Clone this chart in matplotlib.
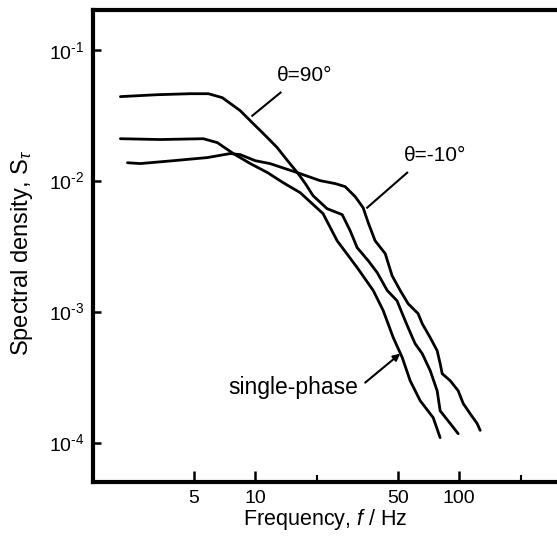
import matplotlib
matplotlib.use("Agg")
import matplotlib.pyplot as plt
from matplotlib.ticker import FixedLocator, NullLocator, NullFormatter, FuncFormatter
import numpy as np

plt.rcParams['font.family'] = ['Liberation Sans', 'DejaVu Sans']
plt.rcParams['mathtext.fontset'] = 'custom'
plt.rcParams['mathtext.rm'] = 'Liberation Sans'
plt.rcParams['mathtext.it'] = 'Liberation Sans:italic'

# theta = 90 deg curve (frequency in Hz, spectral density)
f_90 = [2.18, 3.31, 4.80, 5.89, 6.89, 8.44, 9.78, 11.2, 12.8, 14.4, 16.1, 17.6,
        19.2, 22.5, 26.7, 29.2, 31.6, 35.8, 39.6, 44.4, 49.6, 52.6, 56.2, 60.8,
        65.9, 72.1, 78.0, 80.7, 90.4, 98.9]
s_90 = [0.0438, 0.0453, 0.0461, 0.0461, 0.0430, 0.0342, 0.0272, 0.0221, 0.0179,
        0.0142, 0.0115, 0.0095, 0.00768, 0.00611, 0.00550, 0.00415, 0.00308,
        0.00245, 0.00199, 0.00145, 0.00121, 0.000966, 0.000755, 0.000570,
        0.000478, 0.000355, 0.000249, 0.000175, 0.000140, 0.000117]

# single-phase curve
f_sp = [2.18, 3.42, 5.56, 6.52, 7.80, 9.45, 11.5, 13.7, 16.6, 21.5, 25.2, 31.6,
        37.9, 42.4, 47.5, 52.6, 57.5, 64.4, 74.6, 80.7]
s_sp = [0.0209, 0.0206, 0.0209, 0.0195, 0.0161, 0.0135, 0.0115, 0.00965, 0.00810,
        0.00560, 0.00348, 0.00217, 0.00145, 0.00102, 0.000634, 0.000446,
        0.000297, 0.000209, 0.000155, 0.000109]

# theta = -10 deg curve
f_m10 = [2.36, 2.73, 3.96, 5.82, 7.54, 8.44, 10.0, 11.8, 16.1, 20.8, 24.7, 27.6,
         30.9, 33.8, 35.8, 38.7, 43.4, 46.9, 51.4, 56.2, 62.9, 65.9, 72.1, 78.0,
         80.7, 82.6, 90.4, 98.9, 104.7, 113.3, 122.5, 126.8]
s_m10 = [0.0137, 0.0135, 0.0142, 0.0150, 0.0161, 0.0158, 0.0142, 0.0135, 0.0115,
         0.0100, 0.00949, 0.00900, 0.00755, 0.00622, 0.00478, 0.00348, 0.00277,
         0.00188, 0.00145, 0.00115, 0.000966, 0.000810, 0.000634, 0.000504,
         0.000401, 0.000336, 0.000297, 0.000249, 0.000199, 0.000166, 0.000140,
         0.000124]

x_ticks = [5, 10, 50, 100]
x_tick_labels = ['5', '10', '50', '100']
x_minor = [20, 200]
y_ticks = [1e-4, 1e-3, 1e-2, 1e-1]

fig = plt.figure(figsize=(5.57, 5.38), dpi=100)
ax = fig.add_axes([0.167, 0.104, 0.833, 0.877])

for f, s in [(f_90, s_90), (f_sp, s_sp), (f_m10, s_m10)]:
    ax.plot(f, s, color='black', lw=2.0, solid_capstyle='round',
            solid_joinstyle='round')

ax.set_xscale('log')
ax.set_yscale('log')
ax.set_xlim(1.6, 302)
ax.set_ylim(5e-5, 0.2)

ax.xaxis.set_major_locator(FixedLocator(x_ticks))
ax.set_xticklabels(x_tick_labels)
ax.xaxis.set_minor_locator(FixedLocator(x_minor))
ax.xaxis.set_minor_formatter(NullFormatter())
ax.yaxis.set_major_locator(FixedLocator(y_ticks))
ax.yaxis.set_minor_locator(NullLocator())
# hyphen style exponent like the original print
ax.yaxis.set_major_formatter(FuncFormatter(
    lambda v, pos: r'$\mathdefault{10^{\text{-}%d}}$' % round(-np.log10(v))))

ax.tick_params(which='major', direction='in', length=8, width=1.8, labelsize=14, pad=6)
ax.tick_params(which='minor', direction='in', length=5, width=1.5)
ax.tick_params(axis='y', which='major', length=6)

for side in ['left', 'bottom', 'top']:
    ax.spines[side].set_linewidth(3)
ax.spines['right'].set_visible(False)

ax.set_xlabel('Frequency, $f$ / Hz', fontsize=15.5, labelpad=0)
ax.set_ylabel(r'Spectral density, S$_\tau$', fontsize=17, labelpad=2)
ax.yaxis.set_label_coords(-0.125, 0.485)

# labels with leader lines
ax.text(17.4, 0.0634, 'θ=90°', fontsize=15, ha='center', va='center')
ax.plot([9.67, 13.3], [0.0313, 0.0470], color='black', lw=1.5)

ax.text(76.2, 0.0155, 'θ=-10°', fontsize=15, ha='center', va='center')
ax.plot([35.4, 55.6], [0.00622, 0.0115], color='black', lw=1.5)

ax.text(15.4, 0.000263, 'single-phase', fontsize=16.5, ha='center', va='center')
ax.annotate('', xy=(51.4, 0.000478), xytext=(34.6, 0.000287),
            arrowprops=dict(arrowstyle='-|>', color='black', lw=1.5,
                            mutation_scale=10, shrinkA=0, shrinkB=0))

fig.savefig('out.png', dpi=100)
